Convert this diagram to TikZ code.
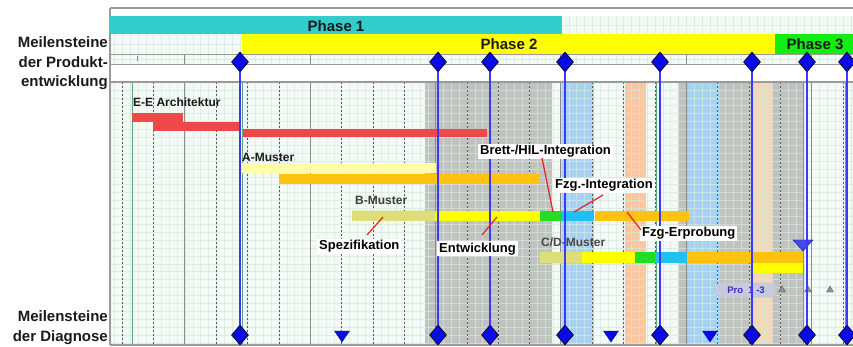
\documentclass[tikz,border=0pt]{standalone}
\usepackage{fontspec}
\setmainfont{Liberation Sans}
\usetikzlibrary{shapes.geometric,patterns}
\definecolor{phteal}{HTML}{33CCCC}
\definecolor{phyel}{HTML}{FFFF00}
\definecolor{phgrn}{HTML}{11EE11}
\definecolor{colgray}{HTML}{C0C2C0}
\definecolor{colblue}{HTML}{A8D2F4}
\definecolor{colorange}{HTML}{F9C8A2}
\definecolor{colpeach}{HTML}{F2D8B8}
\definecolor{chartbg}{HTML}{F3F9F5}
\definecolor{minorc}{HTML}{D6E8DB}
\definecolor{barred}{HTML}{F04848}
\definecolor{paleyel}{HTML}{FFFFA8}
\definecolor{barorange}{HTML}{FFC20E}
\definecolor{hatchc}{HTML}{E4E47C}
\definecolor{bargreen}{HTML}{22DD22}
\definecolor{barcyan}{HTML}{22C0F0}
\definecolor{dblue}{HTML}{0A0AE6}
\definecolor{lblue}{HTML}{3A3AFF}
\definecolor{greenline}{HTML}{5BAA7E}
\definecolor{callred}{HTML}{E82020}
\definecolor{txtdark}{HTML}{1A1A1A}
\definecolor{framegray}{HTML}{9A9A9A}
\definecolor{probox}{HTML}{C9C9DA}
\definecolor{protext}{HTML}{3030C0}
\begin{document}
\begin{tikzpicture}[x=1pt,y=-1pt,
  diam/.style={diamond,draw=black,line width=0.6pt,fill=dblue,inner sep=0pt,minimum width=17pt,minimum height=20pt},
  msline/.style={draw=lblue,line width=1.3pt},
  minorline/.style={draw=minorc,line width=0.4pt,opacity=0.7},
  dashedmajor/.style={draw=gray!70!black,line width=0.7pt,dash pattern=on 2pt off 2pt},
  solidmajor/.style={draw=gray!90,line width=1pt},
  grline/.style={draw=greenline,line width=1pt},
  headtxt/.style={font=\fontsize{15}{19.5}\selectfont\bfseries,text=txtdark,inner sep=0pt},
  phasetxt/.style={font=\fontsize{15}{18}\selectfont\bfseries,text=txtdark,inner sep=0pt},
  bartxt/.style={font=\fontsize{12}{14}\selectfont\bfseries,text=txtdark,inner sep=0pt,anchor=base west},
  calltxt/.style={font=\fontsize{13}{15}\selectfont\bfseries,text=black,fill=white,inner xsep=2pt,inner ysep=1.5pt,anchor=base west},
  pointer/.style={draw=callred,line width=1.2pt},
  tridown/.style={fill=dblue,draw=dblue!70!black,line width=0.4pt},
  triup/.style={fill=gray!85,draw=gray!60!black,line width=0.3pt}
]
\useasboundingbox (0,0) rectangle (853,347);
\fill[white] (0,0) rectangle (853,347);
% ---- backgrounds
\fill[chartbg] (110,16) rectangle (853,64);
\fill[white] (110,64) rectangle (853,82);
\fill[chartbg] (110,82) rectangle (853,345);
% ---- shaded columns
\foreach \a/\b/\c in {425/552/colgray,560/594/colblue,625/646/colorange,678/688/colgray,688/720/colblue,720/753/colgray,753/772/colpeach,772/803/colgray}
  \fill[\c] (\a,82) rectangle (\b,345);
% ---- minor grid
\foreach \i in {0,...,94} {
  \draw[minorline] ({114.5+7.833*\i},82) -- ({114.5+7.833*\i},345);
  \draw[minorline] ({114.5+7.833*\i},16) -- ({114.5+7.833*\i},64);
}
\foreach \j in {1,...,33}
  \draw[minorline] (110,{82+7.9*\j}) -- (853,{82+7.9*\j});
\foreach \yy in {25,44,59}
  \draw[minorline] (110,\yy) -- (853,\yy);
% ---- major grid
\foreach \k in {0,...,23} {
  \pgfmathtruncatemacro\mk{mod(\k,4)}
  \pgfmathsetmacro\xk{122.3+31.33*\k}
  \ifnum\mk=2
    \draw[solidmajor] (\xk,82) -- (\xk,345);
    \draw[solidmajor] (\xk,54) -- (\xk,64);
  \else
    \draw[dashedmajor] (\xk,82) -- (\xk,345);
  \fi
}
\draw[solidmajor] (137,56) -- (137,61);
\foreach \xg in {132,242,656,803,845}
  \draw[grline] (\xg,82) -- (\xg,345);
% ---- frame lines
\draw[framegray,line width=1.5pt] (110,8) -- (853,8);
\draw[framegray,line width=0.8pt] (110,54) -- (853,54);
\draw[framegray,line width=0.6pt] (110,64) -- (853,64);
\draw[framegray,line width=1.2pt] (110,82) -- (853,82);
\draw[framegray,line width=1.5pt] (110,345) -- (853,345);
\draw[framegray,line width=1.2pt] (110,8) -- (110,345);
% ---- phases
\fill[phteal] (110,16) rectangle (561,34);
\draw[gray!70,line width=0.6pt] (561,16) -- (561,34);
\fill[phyel] (242,34) rectangle (775,54);
\fill[phgrn] (775,34) rectangle (853,54);
\node[phasetxt] (ph1) at (336,26) {Phase 1};
\node[phasetxt] (ph2) at (509,44.5) {Phase 2};
\node[phasetxt] (ph3) at (815,44.5) {Phase 3};
% ---- left labels
\node[headtxt,anchor=east,align=right] (lblP) at (108,63.5) {Meilensteine\\der Produkt-\\entwicklung};
\node[headtxt,anchor=east,align=right] (lblD) at (108,327.5) {Meilensteine\\der Diagnose};
% ---- bars: E-E Architektur
\fill[barred] (132,113) rectangle (183,122);
\fill[barred] (153,122) rectangle (239,131);
\fill[barred] (243,129) rectangle (487,137);
\node[bartxt] (eea) at (133,107) {E-E Architektur};
% A-Muster
\fill[paleyel] (242,163) rectangle (436,173);
\fill[barorange] (279,174) rectangle (540,184);
\node[bartxt] (amu) at (242,162) {A-Muster};
% B-Muster
\fill[hatchc] (352,211) rectangle (435,221);
\fill[pattern=north east lines,pattern color=olive!35] (352,211) rectangle (435,221);
\fill[phyel] (435,211) rectangle (540,221);
\fill[bargreen] (540,211) rectangle (562,221);
\fill[barcyan] (562,211) rectangle (594,221);
\fill[barorange] (595,211) rectangle (689,221);
\node[bartxt,text=txtdark!85] (bmu) at (355,205) {B-Muster};
% C/D-Muster
\fill[hatchc] (540,252) rectangle (582,263);
\fill[pattern=north east lines,pattern color=olive!35] (540,252) rectangle (582,263);
\fill[phyel] (582,252) rectangle (635,263);
\fill[bargreen] (635,252) rectangle (655,263);
\fill[barcyan] (655,252) rectangle (687,263);
\fill[barorange] (687,252) rectangle (803,263);
\fill[phyel] (752,263) rectangle (803,273);
\node[bartxt,text=txtdark!80] (cdmu) at (541,247) {C/D-Muster};
\filldraw[fill=dblue!75,draw=blue!60!black,line width=0.3pt] (793,240) -- (813,240) -- (803,251) -- cycle;
% ---- Pro box
\node[fill=probox,rounded corners=3pt,minimum width=58pt,minimum height=15pt,inner sep=0pt,text=protext,font=\fontsize{9.5}{11}\selectfont\bfseries] (pro) at (746,290) {Pro\ \ 1 -3};
\foreach \xt in {782,808,830}
  \filldraw[triup] (\xt-3.5,292) -- (\xt+3.5,292) -- (\xt,286) -- cycle;
% ---- milestones
\foreach \n/\xm in {1/240,2/438,3/490,4/565,5/660,6/752,7/807,8/847} {
  \node[diam] (t\n) at (\xm,62) {};
  \node[diam] (b\n) at (\xm,335) {};
  \draw[msline] (t\n) -- (b\n);
}
\foreach \xt in {342,611,710}
  \filldraw[tridown] (\xt-7.5,331) -- (\xt+7.5,331) -- (\xt,342) -- cycle;
% ---- callouts
\node[calltxt] (brett) at (478,155) {Brett-/HIL-Integration};
\node[calltxt] (fzgi) at (553,188.5) {Fzg.-Integration};
\node[calltxt] (fzge) at (640,236.5) {Fzg-Erprobung};
\node[calltxt] (spez) at (317,249.5) {Spezifikation};
\node[calltxt] (entw) at (437,252) {Entwicklung};
\coordinate (brettA) at (542,158);
\coordinate (brettB) at (553,212);
\coordinate (fzgiA) at (603,195);
\coordinate (fzgiB) at (574,212);
\coordinate (fzgeA) at (627,212);
\coordinate (fzgeB) at (641,230);
\coordinate (spezA) at (383,217);
\coordinate (spezB) at (367,235);
\coordinate (entwA) at (497,217);
\coordinate (entwB) at (482,235);
\draw[pointer] (brettA) -- (brettB);
\draw[pointer] (fzgiA) -- (fzgiB);
\draw[pointer] (fzgeA) -- (fzgeB);
\draw[pointer] (spezA) -- (spezB);
\draw[pointer] (entwA) -- (entwB);
\end{tikzpicture}
\end{document}
